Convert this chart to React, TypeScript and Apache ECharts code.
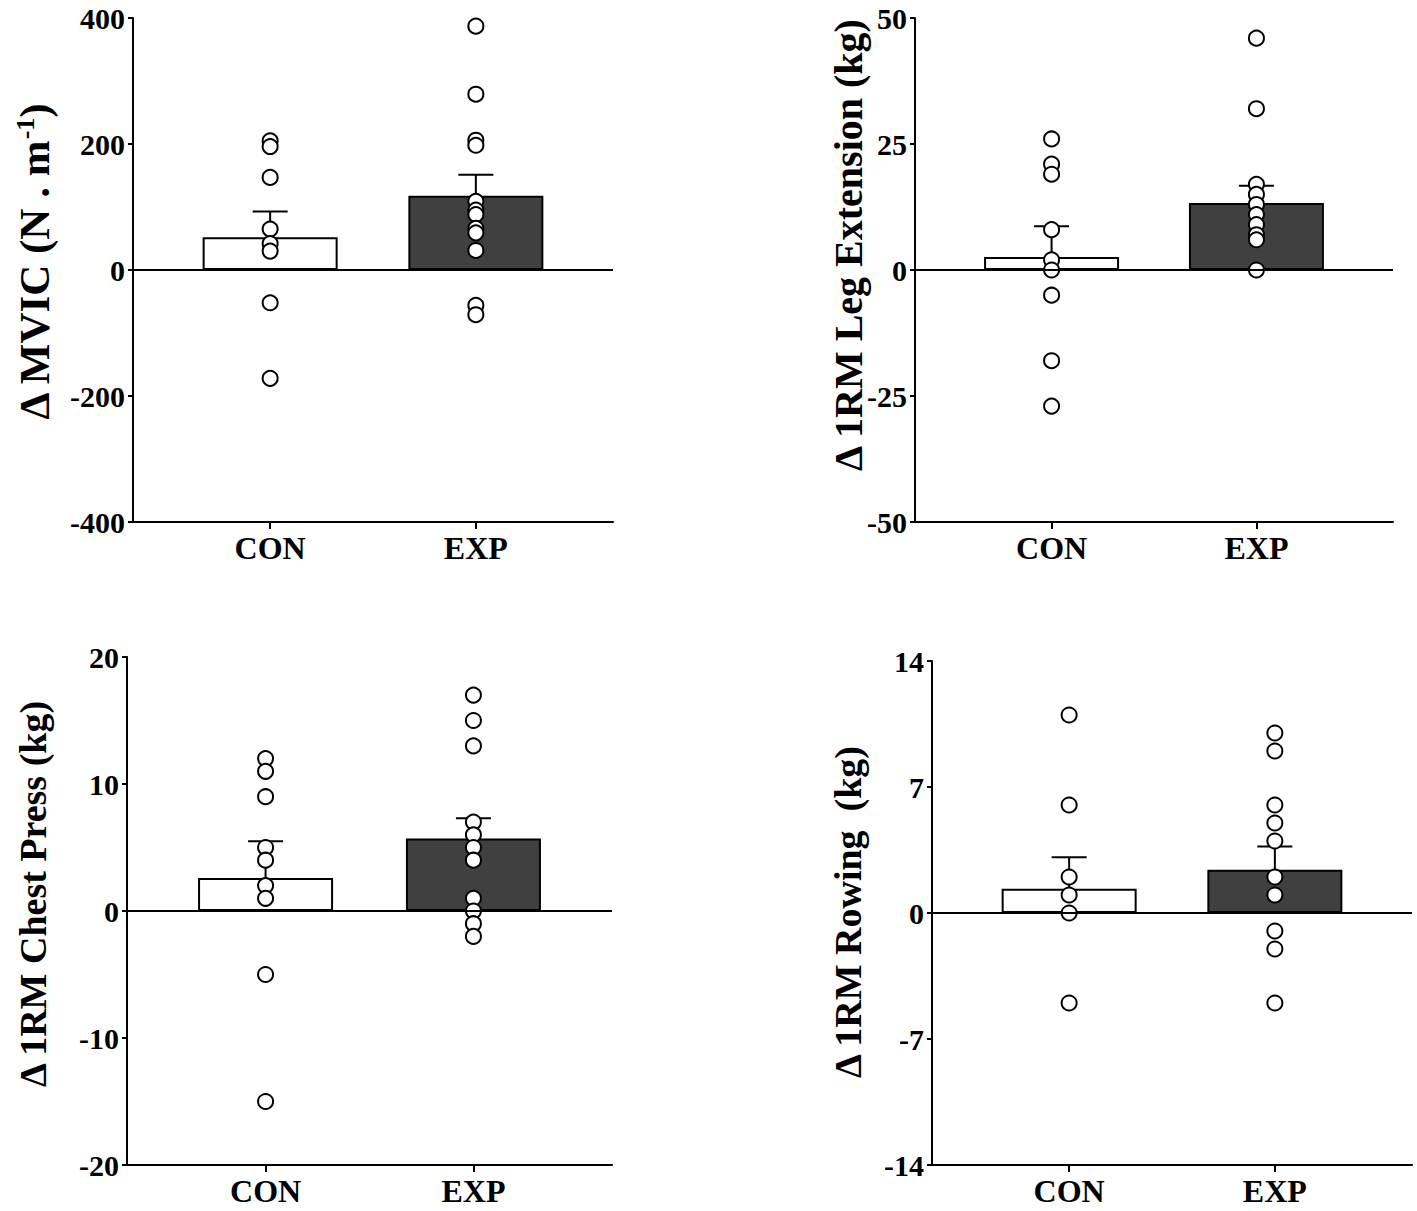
import React, { useEffect, useRef } from "react";
import * as echarts from "echarts";

// ---- data ----
const categories = ["CON", "EXP"];
const categoryX = [1, 2.5];

const mvicCon = [205, 196, 147, 65, 42, 30, -52, -172];
const mvicExp = [387, 279, 206, 198, 109, 95, 88, 66, 59, 31, -56, -71];
const mvicMean = [52, 118];
const mvicSem = [41, 33];

const legCon = [26, 21, 19, 8, 2, 0, -5, -18, -27];
const legExp = [46, 32, 17, 15, 13, 11, 9, 7, 6, 0];
const legMean = [2.6, 13.3];
const legSem = [6.1, 3.4];

const chestCon = [12, 11, 9, 5, 4, 2, 1, -5, -15];
const chestExp = [17, 15, 13, 7, 6, 5, 4, 1, 0, -1, -2];
const chestMean = [2.6, 5.7];
const chestSem = [2.9, 1.6];

const rowCon = [11, 6, 2, 1, 0, -5];
const rowExp = [10, 9, 6, 5, 4, 2, 1, -1, -2, -5];
const rowMean = [1.35, 2.4];
const rowSem = [1.75, 1.3];

const FONT = "'Liberation Serif', 'Times New Roman', serif";

const panels = [
  {
    grid: { left: 133, top: 18, width: 480, height: 504 },
    min: -400, max: 400, interval: 200,
    con: mvicCon, exp: mvicExp, mean: mvicMean, sem: mvicSem,
    title: { x: 34, y: 262, size: 43, rich: true, text: "{t|Δ MVIC (N . m}{s|-1}{t|)}" },
  },
  {
    grid: { left: 915, top: 18, width: 478, height: 504 },
    min: -50, max: 50, interval: 25,
    con: legCon, exp: legExp, mean: legMean, sem: legSem,
    title: { x: 848, y: 245, size: 40, rich: false, text: "Δ 1RM Leg Extension (kg)" },
  },
  {
    grid: { left: 127, top: 657, width: 485, height: 508 },
    min: -20, max: 20, interval: 10,
    con: chestCon, exp: chestExp, mean: chestMean, sem: chestSem,
    title: { x: 33, y: 894, size: 38, rich: false, text: "Δ 1RM Chest Press (kg)" },
  },
  {
    grid: { left: 932, top: 661, width: 480, height: 504 },
    min: -14, max: 14, interval: 7,
    con: rowCon, exp: rowExp, mean: rowMean, sem: rowSem,
    title: { x: 848, y: 912, size: 38, rich: false, text: "Δ 1RM Rowing\u00a0\u00a0(kg)" },
  },
];

function buildOption() {
  const grid: any[] = [];
  const xAxis: any[] = [];
  const yAxis: any[] = [];
  const series: any[] = [];
  const graphic: any[] = [];

  panels.forEach((p, i) => {
    grid.push({ ...p.grid, containLabel: false });
    xAxis.push({
      type: "value",
      gridIndex: i,
      min: 0,
      max: 3.5,
      axisLine: { show: true, onZero: false, lineStyle: { color: "#000", width: 2 } },
      axisTick: { show: true, customValues: categoryX, length: 7, lineStyle: { color: "#000", width: 2 } },
      axisLabel: {
        show: true,
        customValues: categoryX,
        formatter: (v: number) => categories[categoryX.indexOf(v)] ?? "",
        fontFamily: FONT,
        fontWeight: "bold",
        fontSize: 32,
        color: "#000",
        margin: 10,
      },
      splitLine: { show: false },
    });
    yAxis.push({
      type: "value",
      gridIndex: i,
      min: p.min,
      max: p.max,
      interval: p.interval,
      axisLine: { show: true, onZero: false, lineStyle: { color: "#000", width: 2 } },
      axisTick: { show: true, length: 5, lineStyle: { color: "#000", width: 2 } },
      axisLabel: {
        fontFamily: FONT,
        fontWeight: "bold",
        fontSize: 30,
        color: "#000",
        margin: 8,
      },
      splitLine: { show: false },
    });

    series.push({
      type: "bar",
      xAxisIndex: i,
      yAxisIndex: i,
      barWidth: 135,
      z: 2,
      data: p.mean.map((m, k) => ({
        value: [categoryX[k], m],
        itemStyle: {
          color: k === 0 ? "#ffffff" : "#404040",
          borderColor: "#000",
          borderWidth: 2,
        },
      })),
      markLine: {
        silent: true,
        symbol: "none",
        label: { show: false },
        lineStyle: { color: "#000", width: 2, type: "solid" },
        data: [{ yAxis: 0 }],
      },
    });

    series.push({
      type: "custom",
      xAxisIndex: i,
      yAxisIndex: i,
      z: 3,
      data: p.mean.map((m, k) => [categoryX[k], m, m + p.sem[k]]),
      renderItem: (params: any, api: any) => {
        const x = api.value(0);
        const base = api.coord([x, api.value(1)]);
        const top = api.coord([x, api.value(2)]);
        const half = 17.5;
        const st = { stroke: "#000", lineWidth: 2 };
        return {
          type: "group",
          children: [
            { type: "line", shape: { x1: base[0], y1: base[1], x2: top[0], y2: top[1] }, style: st },
            { type: "line", shape: { x1: top[0] - half, y1: top[1], x2: top[0] + half, y2: top[1] }, style: st },
          ],
        };
      },
    });

    const pts: number[][] = [];
    p.con.forEach((v) => pts.push([categoryX[0], v]));
    p.exp.forEach((v) => pts.push([categoryX[1], v]));
    series.push({
      type: "scatter",
      xAxisIndex: i,
      yAxisIndex: i,
      z: 4,
      symbol: "circle",
      symbolSize: 15,
      itemStyle: { color: "#ffffff", borderColor: "#000", borderWidth: 2, opacity: 1 },
      data: pts,
    });

    const t = p.title;
    const baseStyle: any = {
      text: t.text,
      fontFamily: FONT,
      fontWeight: "bold",
      fontSize: t.size,
      fill: "#000",
      align: "center",
      verticalAlign: "middle",
      textAlign: "center",
      textVerticalAlign: "middle",
    };
    if (t.rich) {
      baseStyle.rich = {
        t: { fontFamily: FONT, fontWeight: "bold", fontSize: t.size, fill: "#000", color: "#000" },
        s: { fontFamily: FONT, fontWeight: "bold", fontSize: Math.round(t.size * 0.6), fill: "#000", color: "#000", verticalAlign: "top" },
      };
    }
    graphic.push({
      type: "text",
      x: t.x,
      y: t.y,
      rotation: Math.PI / 2,
      style: baseStyle,
    });
  });

  return {
    animation: false,
    backgroundColor: "#ffffff",
    grid,
    xAxis,
    yAxis,
    series,
    graphic,
  };
}

export default function App() {
  const ref = useRef<HTMLDivElement>(null);
  useEffect(() => {
    if (!ref.current) return;
    const chart = echarts.init(ref.current, undefined, { renderer: "svg" });
    chart.setOption(buildOption() as any);
    return () => chart.dispose();
  }, []);
  return (
    <div
      ref={ref}
      style={{ position: "absolute", left: 0, top: 0, width: 1417, height: 1211, background: "#fff" }}
    />
  );
}
